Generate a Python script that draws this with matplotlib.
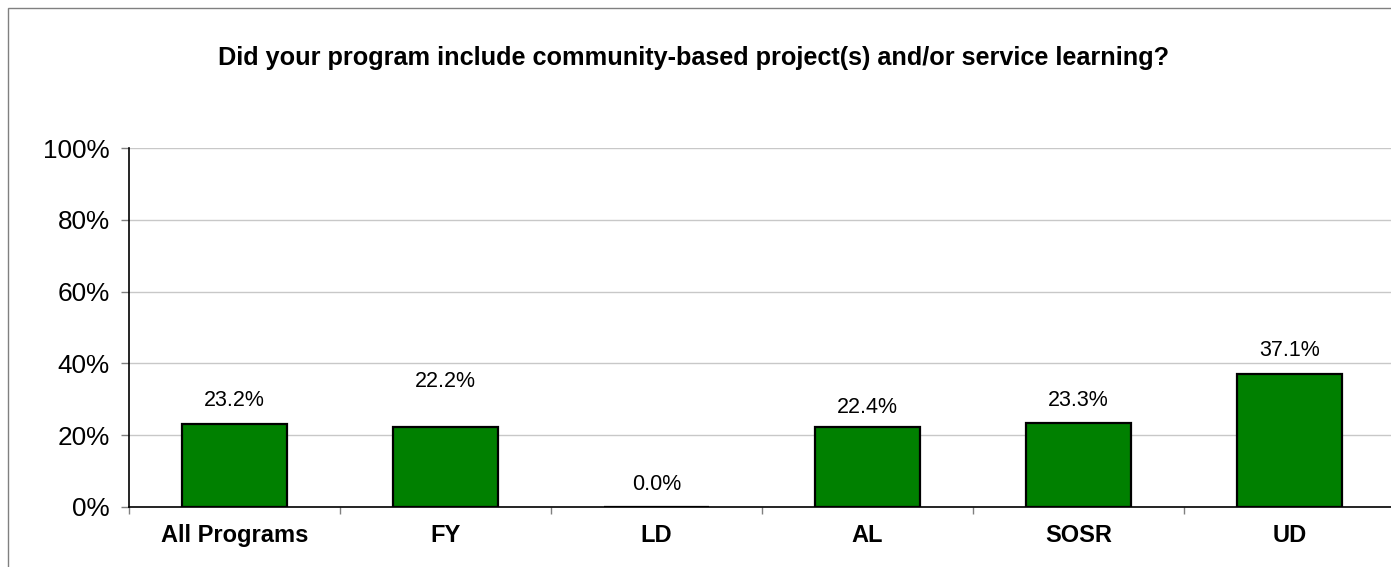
import matplotlib
matplotlib.use("Agg")
import matplotlib.pyplot as plt
from matplotlib.patches import Rectangle
from matplotlib.ticker import FixedLocator, PercentFormatter

categories = ["All Programs", "FY", "LD", "AL", "SOSR", "UD"]
values = [23.2, 22.2, 0.0, 22.4, 23.3, 37.1]
label_offsets = [23, 46, 23, 19, 23, 23]  # pixels above bar top
yticks = [0, 20, 40, 60, 80, 100]
title = "Did your program include community-based project(s) and/or service learning?"

plt.rcParams['font.family'] = ['Liberation Sans', 'DejaVu Sans']

W, H = 1391, 567
fig = plt.figure(figsize=(W / 100, H / 100), dpi=100)
fig.patch.set_facecolor("white")

# outer chart border
fig.add_artist(Rectangle((8 / W, -0.1), 1.2, 1 - 8 / H + 0.1, transform=fig.transFigure,
                         fill=False, edgecolor="#808080", linewidth=1.0))

left, right, top, bottom = 129, 1395, 148, 507
ax = fig.add_axes([left / W, 1 - bottom / H, (right - left) / W, (bottom - top) / H])

x = list(range(len(categories)))
ax.bar(x, values, width=0.5, color="#008000", edgecolor="black", linewidth=1.6, zorder=3)
ax.set_xlim(-0.5, len(categories) - 0.5)
ax.set_ylim(0, 100)

ax.set_yticks(yticks)
ax.yaxis.set_major_formatter(PercentFormatter(decimals=0))
ax.tick_params(axis="y", labelsize=18.8, length=6, width=1, color="#808080", pad=8)
ax.grid(axis="y", color="#c8c8c8", linewidth=1, zorder=0)

ax.set_xticks(x)
ax.set_xticklabels(categories, fontweight="bold", fontsize=17)
ax.xaxis.set_minor_locator(FixedLocator([i - 0.5 for i in range(len(categories) + 1)]))
ax.tick_params(axis="x", which="major", length=0, pad=12)
ax.tick_params(axis="x", which="minor", length=5, width=1, color="#808080")

for s in ["top", "right"]:
    ax.spines[s].set_visible(False)
ax.spines["left"].set_color("black")
ax.spines["bottom"].set_color("black")
ax.spines["left"].set_linewidth(1.2)
ax.spines["bottom"].set_linewidth(1.2)

for xi, v, off in zip(x, values, label_offsets):
    ax.annotate(f"{v:.1f}%", (xi, v), xytext=(0, off * 0.72), textcoords="offset points",
                ha="center", va="center", fontsize=15.5)

fig.text(0.5 * (218 + 1170) / W, 1 - 58 / H, title, ha="center", va="center",
         fontsize=18.2, fontweight="bold")

fig.savefig("out.png", dpi=100)
